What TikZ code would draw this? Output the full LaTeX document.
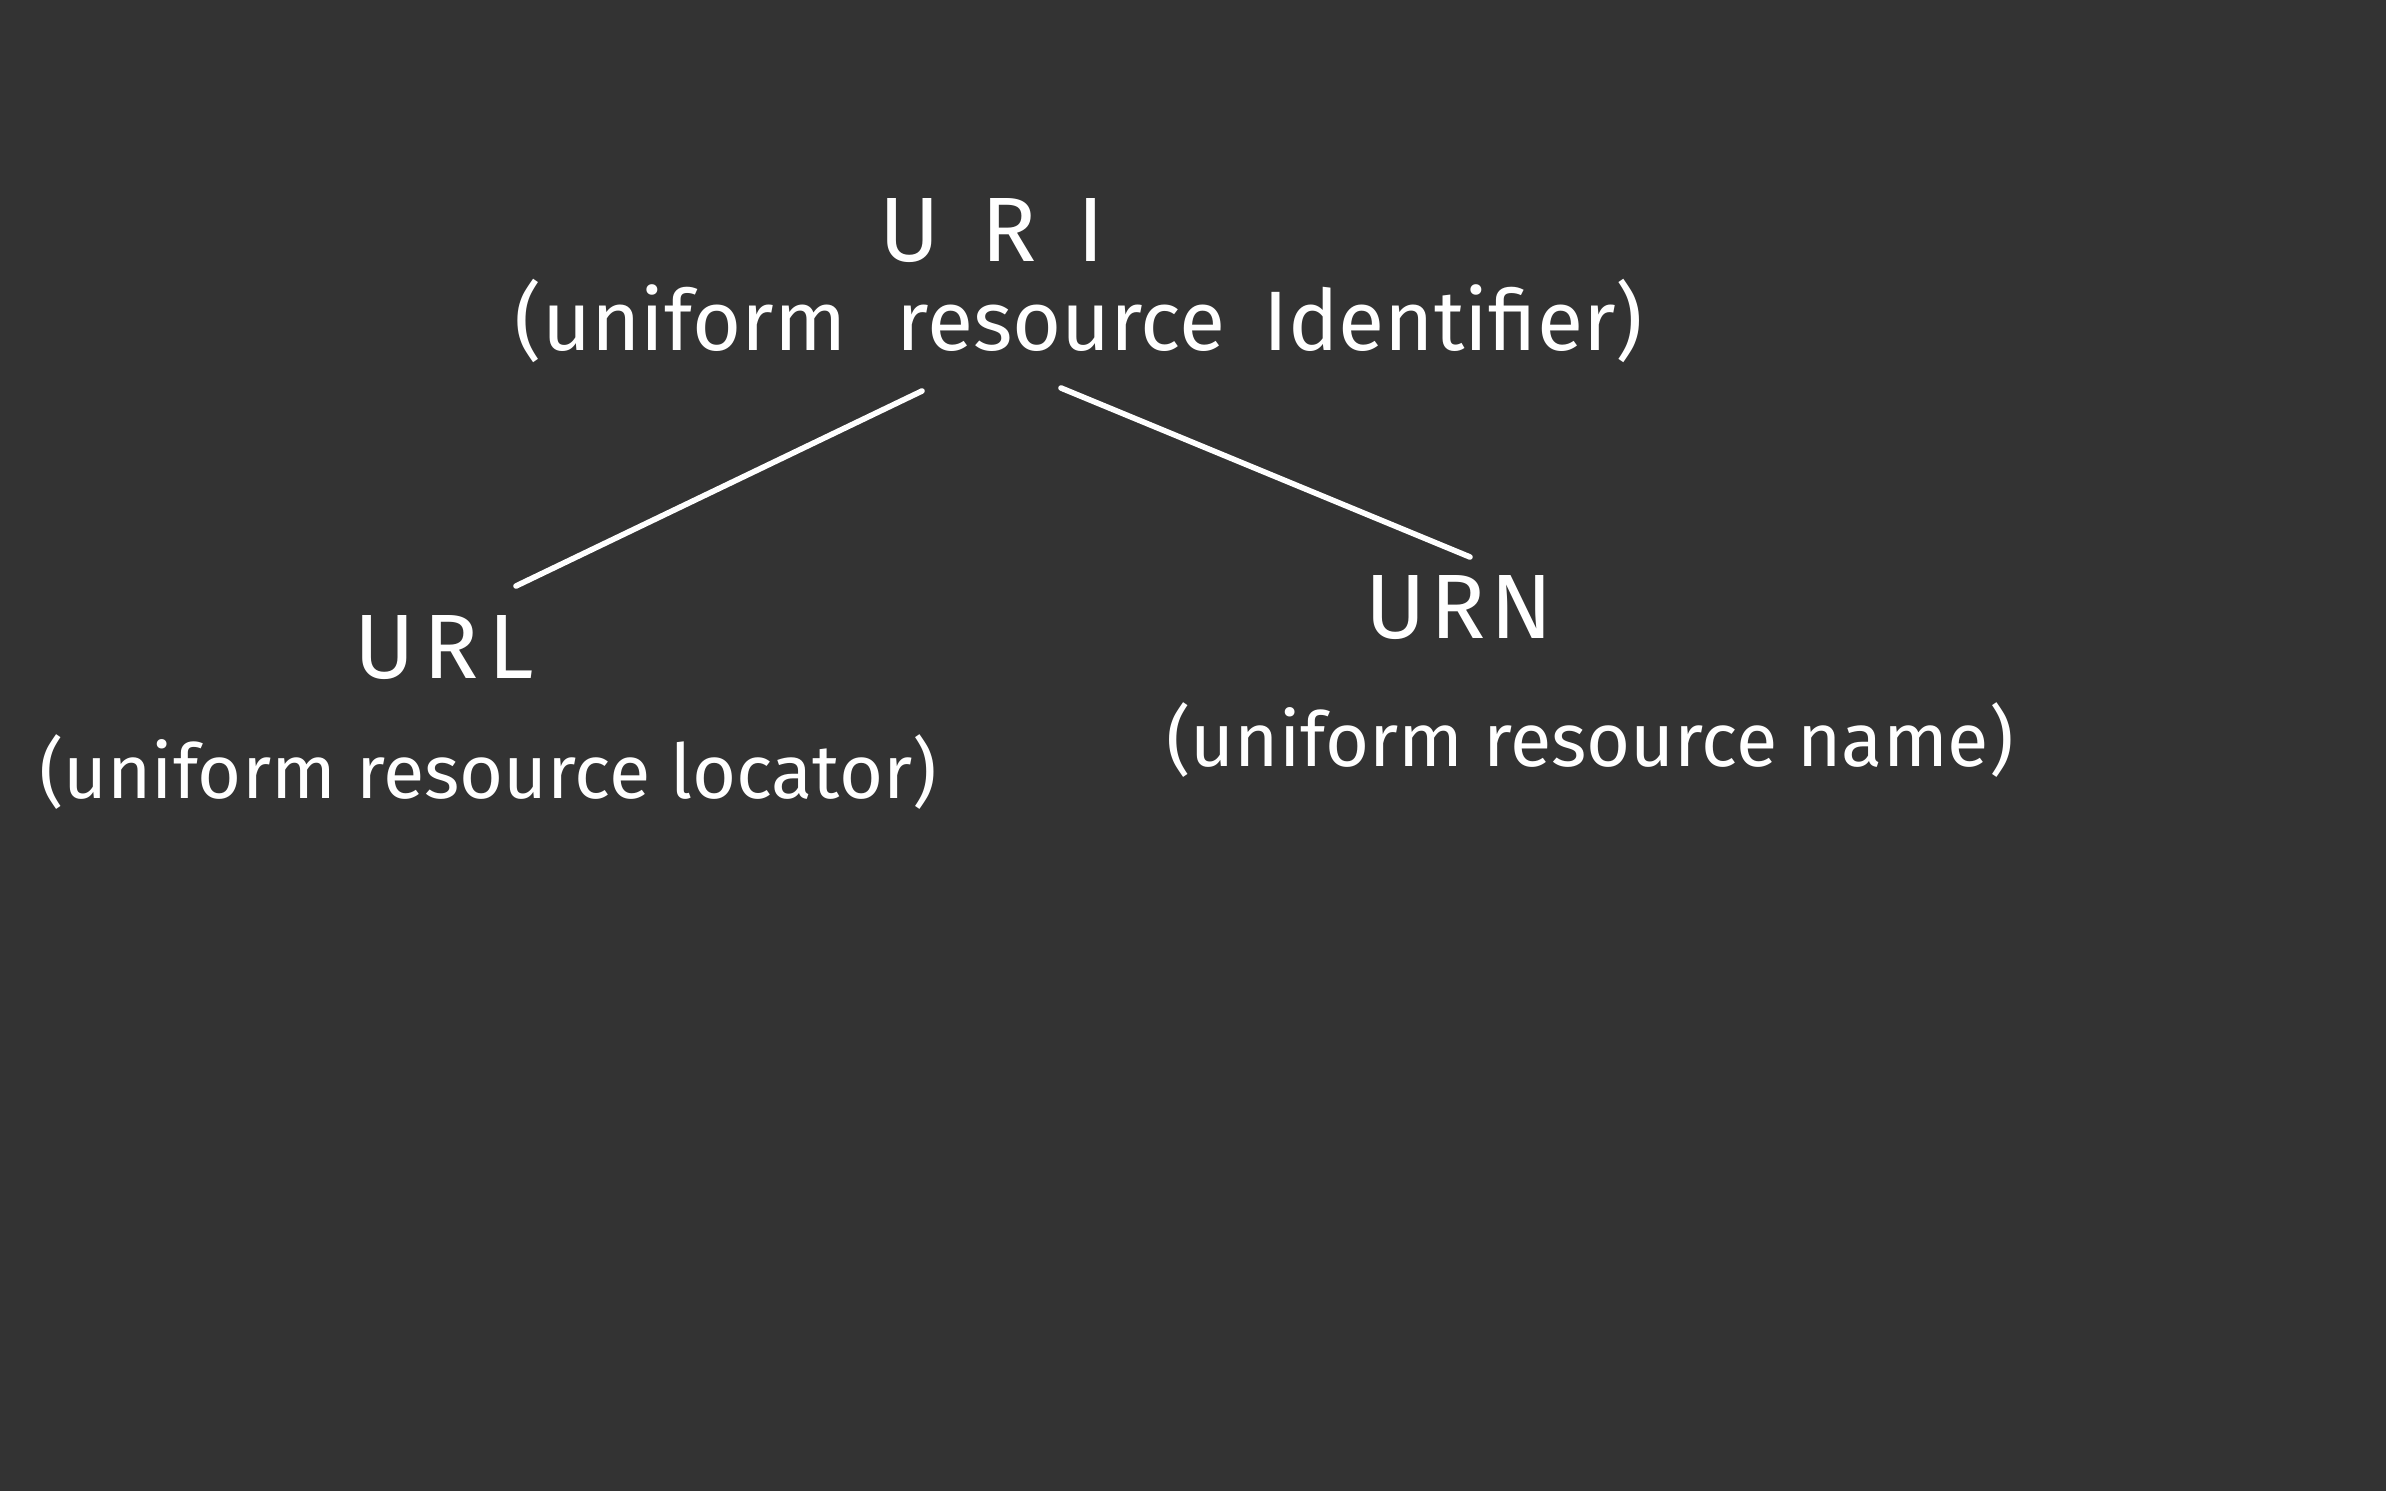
\documentclass[tikz,border=0pt]{standalone}
\usepackage{fontspec}
\setmainfont{Fira Sans}
\definecolor{bgdark}{HTML}{333333}
\definecolor{chalk}{HTML}{FFFFFF}
\begin{document}
\begin{tikzpicture}[x=0.01cm,y=-0.01cm,
  title/.style={text=chalk,font=\fontsize{26}{30}\selectfont,anchor=center,inner sep=0pt},
  desc/.style={text=chalk,font=\fontsize{21.5}{26}\selectfont,anchor=center,inner sep=0pt},
  link/.style={draw=chalk,line width=1.6pt,line cap=round}]
\fill[bgdark] (0,0) rectangle (2386,1491);
\useasboundingbox (0,0) rectangle (2386,1491);
\node[title] (uri) at (992,231) {U\hspace{0.45em}R\hspace{0.45em}I};
\node[desc,font=\fontsize{24}{28}\selectfont] (uridesc) at (1079,321) {(uniform\hspace{0.6em}resource\hspace{0.45em}Identifier)};
\node[title] (url) at (444,648) {U\hspace{0.1em}R\hspace{0.1em}L};
\node[desc] (urldesc) at (488,772) {(uniform resource locator)};
\node[title] (urn) at (1459,608) {U\hspace{0.05em}R\hspace{0.05em}N};
\node[desc] (urndesc) at (1590,740) {(uniform resource name)};
\coordinate (l1a) at (922,391);
\coordinate (l1b) at (516,586);
\coordinate (l2a) at (1061,388);
\coordinate (l2b) at (1470,557);
\draw[link] (l1a) -- (l1b);
\draw[link] (l2a) -- (l2b);
\end{tikzpicture}
\end{document}
